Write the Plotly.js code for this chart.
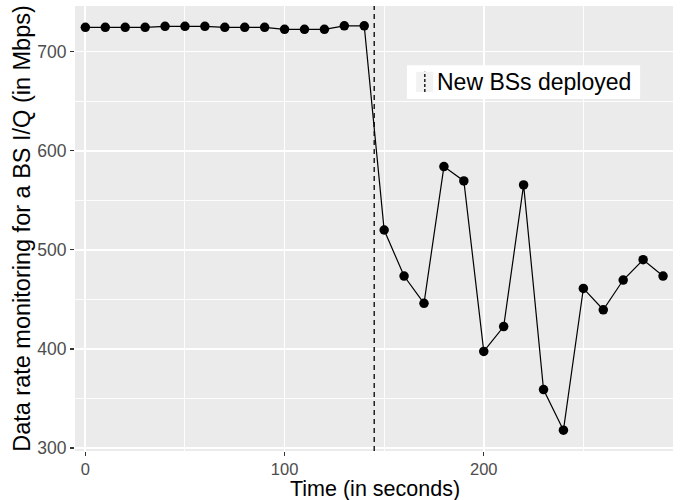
<!DOCTYPE html>
<html>
<head>
<meta charset="utf-8">
<script src="https://cdn.plot.ly/plotly-3.0.1.min.js"></script>
<style>html,body{margin:0;padding:0;background:#fff;}#chart{width:680px;height:500px;}</style>
</head>
<body>
<div id="chart"></div>
<script>
// Data
const timeSec = [0,10,20,30,40,50,60,70,80,90,100,110,120,130,140,
                 150,160,170,180,190,200,210,220,230,240,250,260,270,280,290];
const dataRate = [724.5,724.5,724.5,724.5,725.5,725.5,725.5,724.5,724.5,724.5,722.5,722.5,722.5,726,726,
                  520,473.5,446,584,569.5,397.5,422.5,565.5,359,318,461,439.5,469.5,490,473.5];
const deployTime = [145];
const legendLabel = ["New BSs deployed"];
const xTitle = "Time (in seconds)";
const yTitle = "Data rate monitoring for a BS I/Q (in Mbps)";
const xTickVals = [0,100,200];
const yTickVals = [300,400,500,600,700];

const FONT = "Liberation Sans, Arial, Helvetica, sans-serif";

const traces = [{
  x: timeSec, y: dataRate, type: "scatter", mode: "lines+markers",
  line: {color: "#000000", width: 1.2},
  marker: {color: "#000000", size: 9.5},
  showlegend: false, hoverinfo: "x+y"
}];

const shapes = [];
deployTime.forEach(t => shapes.push({
  type: "line", xref: "x", yref: "paper", x0: t, x1: t, y0: 0, y1: 1,
  line: {color: "#000000", width: 1.3, dash: "5px,4px"}, layer: "above"
}));
// legend box (manual, ggplot style)
shapes.push({type:"rect", xref:"paper", yref:"paper", x0:0.555, x1:0.945, y0:0.791, y1:0.867,
  fillcolor:"#ffffff", line:{width:0}, layer:"above"});
shapes.push({type:"rect", xref:"paper", yref:"paper", x0:0.5705, x1:0.599, y0:0.807, y1:0.852,
  fillcolor:"#F2F2F2", line:{width:0}, layer:"above"});
shapes.push({type:"line", xref:"paper", yref:"paper", x0:0.585, x1:0.585, y0:0.807, y1:0.852,
  line:{color:"#000000", width:1.3, dash:"3px,2px"}, layer:"above"});

const layout = {
  width: 680, height: 500,
  margin: {l: 75, r: 7.3, t: 6, b: 49, pad: 0},
  paper_bgcolor: "#ffffff", plot_bgcolor: "#EBEBEB",
  font: {family: FONT, color: "#000000"},
  showlegend: false,
  xaxis: {
    range: [-5.2, 295], tickvals: xTickVals, ticktext: xTickVals.map(String),
    ticks: "outside", ticklen: 3.5, tickwidth: 1.3, tickcolor: "#333333",
    tickfont: {family: FONT, size: 16.5, color: "#4D4D4D"},
    showgrid: true, gridcolor: "#ffffff", gridwidth: 1.8,
    minor: {tickvals: [50,150,250], showgrid: true, gridcolor: "#ffffff", gridwidth: 0.9, ticks: ""},
    zeroline: false, showline: false, automargin: false
  },
  yaxis: {
    range: [297, 746], tickvals: yTickVals, ticktext: yTickVals.map(String),
    ticks: "outside", ticklen: 4, tickwidth: 1.3, tickcolor: "#333333",
    tickfont: {family: FONT, size: 17.5, color: "#4D4D4D"},
    showgrid: true, gridcolor: "#ffffff", gridwidth: 1.8,
    minor: {tickvals: [350,450,550,650], showgrid: true, gridcolor: "#ffffff", gridwidth: 0.9, ticks: ""},
    zeroline: false, showline: false, automargin: true,
    title: {text: yTitle, font: {family: FONT, size: 23.5, color: "#000000"}, standoff: 0}
  },
  shapes: shapes,
  annotations: [{
    xref: "paper", yref: "paper", x: 0.602, y: 0.829, xanchor: "left", yanchor: "middle",
    text: legendLabel[0], showarrow: false,
    font: {family: FONT, size: 23, color: "#000000"}
  }, {
    xref: "paper", yref: "paper", x: 0.502, y: -0.0865, xanchor: "center", yanchor: "middle",
    text: xTitle, showarrow: false,
    font: {family: FONT, size: 21.5, color: "#000000"}
  }]
};

Plotly.newPlot("chart", traces, layout, {staticPlot: true, displayModeBar: false});
</script>
</body>
</html>
